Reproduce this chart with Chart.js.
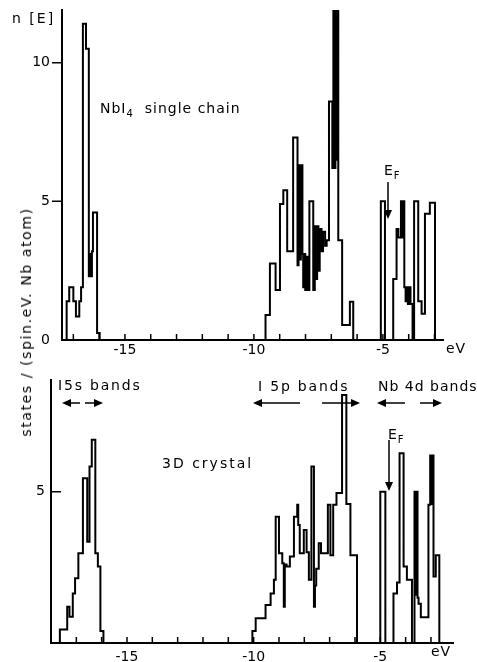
<!DOCTYPE html>
<html>
<head>
<meta charset="utf-8">
<script src="https://cdn.jsdelivr.net/npm/chart.js@4"></script>
<style>
body { margin: 0; background: #fff; width: 477px; height: 662px; position: relative; overflow: hidden; font-family: "DejaVu Sans", sans-serif; color: #000; }
canvas { position: absolute; left: 0; }
#c1 { top: 0; }
#c2 { top: 362px; }
.t { position: absolute; font-size: 14px; white-space: nowrap; letter-spacing: 1px; }
.t sub { font-size: 10px; }
#ytitle { position: absolute; left: 26px; top: 322px; transform: translate(-50%, -50%) rotate(-90deg); font-size: 14px; letter-spacing: 1.6px; white-space: nowrap; }
</style>
</head>
<body>
<canvas id="c1" width="477" height="362"></canvas>
<canvas id="c2" width="477" height="300"></canvas>

<div class="t" style="left:12px;top:10px;letter-spacing:2px">n [E]</div>
<div class="t" style="left:100px;top:100px">NbI<sub>4</sub>&nbsp; single chain</div>
<div class="t" style="left:384px;top:162px">E<sub>F</sub></div>
<div class="t" style="left:446px;top:340px">eV</div>

<div class="t" style="left:58px;top:377px;letter-spacing:1.8px">I5s bands</div>
<div class="t" style="left:258px;top:378px;letter-spacing:1.8px">I 5p bands</div>
<div class="t" style="left:378px;top:378px">Nb 4d bands</div>
<div class="t" style="left:162px;top:455px;letter-spacing:2px">3D crystal</div>
<div class="t" style="left:388px;top:426px">E<sub>F</sub></div>
<div class="t" style="left:431px;top:643px">eV</div>
<div id="ytitle">states / (spin.eV. Nb atom)</div>

<script>
// NbI4 single chain (energy in eV, left edge of each step)
const topE = [
  -17.44, -17.26, -17.16, -17.00, -16.90, -16.77, -16.70, -16.63, -16.51, -16.40, -16.36, -16.32, -16.28, -16.24, -16.08, -15.98,
  -9.55, -9.38, -9.16, -8.99, -8.86, -8.71, -8.48, -8.31, -8.27, -8.22, -8.18, -8.12, -8.09, -8.05, -8.01, -7.96, -7.89, -7.85, -7.70, -7.64,
  -7.60, -7.55, -7.50, -7.45, -7.38, -7.32, -7.24, -7.18, -7.09, -6.96, -6.92, -6.88, -6.84, -6.80, -6.76, -6.73, -6.58, -6.28, -6.15,
  -5.08, -4.92, -4.60, -4.47, -4.40, -4.30, -4.26, -4.22, -4.17, -4.12, -4.08, -4.03, -3.98, -3.93, -3.85, -3.79, -3.63, -3.50, -3.37, -3.18, -2.98
];
const topN = [
  0, 1.4, 1.9, 1.4, 0.85, 1.4, 1.9, 11.4, 10.5, 2.3, 3.1, 2.3, 3.2, 4.6, 0.25, 0,
  0.9, 2.76, 1.8, 4.9, 5.4, 3.2, 7.3, 2.7, 6.3, 2.9, 6.3, 3.1, 1.9, 3.1, 1.8, 3.0, 1.8, 5.0, 1.8, 4.1,
  2.2, 4.1, 2.5, 4.0, 3.2, 3.9, 3.4, 3.6, 8.6, 6.2, 11.9, 6.2, 11.9, 6.5, 11.9, 3.6, 0.54, 1.38, 0,
  5.0, 0, 2.2, 4.0, 3.7, 5.0, 3.7, 5.0, 1.9, 1.4, 1.9, 1.3, 1.9, 1.3, 0, 5.0, 1.4, 0.95, 4.55, 4.95, 0
];

// 3D crystal
const botE = [
  -18.0, -17.65, -17.36, -17.27, -17.14, -17.05, -16.92, -16.74, -16.57, -16.48, -16.39, -16.25, -16.15, -16.05, -15.93,
  -10.05, -9.92, -9.53, -9.33, -9.20, -9.13, -9.00, -8.87, -8.81, -8.77, -8.70, -8.57, -8.41, -8.28, -8.24, -8.18, -8.02,
  -7.91, -7.82, -7.72, -7.62, -7.58, -7.53, -7.43, -7.34, -7.07, -6.97, -6.86, -6.73, -6.51, -6.34, -6.18, -5.92,
  -5.00, -4.80, -4.48, -4.34, -4.24, -4.08, -3.95, -3.75, -3.65, -3.61, -3.57, -3.53, -3.49, -3.40, -3.10, -3.03, -2.99, -2.95, -2.90, -2.81, -2.67
];
const botN = [
  0, 0.45, 1.2, 0.87, 1.64, 2.14, 2.97, 5.45, 3.35, 5.84, 6.72, 2.97, 2.53, 0.4, 0,
  0.4, 0.82, 1.26, 1.64, 2.09, 4.18, 2.97, 2.64, 1.2, 2.6, 2.53, 2.86, 4.18, 4.57, 3.9, 2.97, 3.74,
  3.0, 2.09, 5.84, 1.2, 1.9, 2.46, 3.3, 2.97, 4.57, 2.9, 4.57, 4.96, 8.2, 4.6, 2.9, 0,
  5.0, 0, 1.64, 2.0, 6.28, 2.53, 2.09, 0, 5.0, 1.6, 5.0, 1.5, 1.3, 0.85, 4.57, 6.2, 4.6, 6.2, 2.2, 2.9, 0
];

const xLabels = [-15, -10, -5];
const topYTicks = [0, 5, 10];
const botYTicks = [5];

// tick marks (x inward, y on either side) + annotation arrows
const marks = {
  id: 'marks',
  afterDatasetsDraw(chart, args, opts) {
    const ctx = chart.ctx, x = chart.scales.x, y = chart.scales.y, a = chart.chartArea;
    ctx.save();
    ctx.strokeStyle = '#000';
    ctx.fillStyle = '#000';
    ctx.lineWidth = 1.5;
    ctx.beginPath();
    for (let v = Math.ceil(x.min); v <= x.max; v++) {
      const px = x.getPixelForValue(v);
      ctx.moveTo(px, a.bottom);
      ctx.lineTo(px, a.bottom - 6);
    }
    y.ticks.forEach(t => {
      if (t.value === 0) return;
      const py = y.getPixelForValue(t.value);
      ctx.moveTo(a.left, py);
      ctx.lineTo(a.left + opts.yTick, py);
    });
    ctx.stroke();
    (opts.arrows || []).forEach(([x1, y1, x2, y2]) => {
      const ang = Math.atan2(y2 - y1, x2 - x1);
      ctx.beginPath();
      ctx.moveTo(x1, y1);
      ctx.lineTo(x2 - 6 * Math.cos(ang), y2 - 6 * Math.sin(ang));
      ctx.stroke();
      ctx.beginPath();
      ctx.moveTo(x2, y2);
      ctx.lineTo(x2 - 9 * Math.cos(ang) + 4 * Math.sin(ang), y2 - 9 * Math.sin(ang) - 4 * Math.cos(ang));
      ctx.lineTo(x2 - 9 * Math.cos(ang) - 4 * Math.sin(ang), y2 - 9 * Math.sin(ang) + 4 * Math.cos(ang));
      ctx.closePath();
      ctx.fill();
    });
    ctx.restore();
  }
};

function makeChart(id, es, ns, xmin, xmax, ymax, yTicks, axisX, pad, xHeight, yTick, labelPad, xLabelPad, arrows) {
  return new Chart(document.getElementById(id), {
    type: 'line',
    data: {
      datasets: [{
        data: es.map((e, i) => ({ x: e, y: ns[i] })),
        stepped: true,
        borderColor: '#000',
        borderWidth: 2,
        pointRadius: 0,
        fill: false
      }]
    },
    options: {
      responsive: false,
      animation: false,
      layout: { padding: pad },
      plugins: {
        legend: { display: false },
        tooltip: { enabled: false },
        marks: { arrows: arrows, yTick: yTick }
      },
      scales: {
        x: {
          type: 'linear',
          min: xmin,
          max: xmax,
          grid: { display: false, tickLength: 0 },
          border: { display: true, color: '#000', width: 2 },
          afterBuildTicks: s => { s.ticks = xLabels.map(v => ({ value: v })); },
          afterFit: s => { s.height = xHeight; s.paddingLeft = 0; s.paddingRight = 0; },
          ticks: { color: '#000', padding: xLabelPad, maxRotation: 0, autoSkip: false, font: { family: 'DejaVu Sans', size: 14 } }
        },
        y: {
          min: 0,
          max: ymax,
          grid: { display: false, tickLength: 0 },
          border: { display: true, color: '#000', width: 2 },
          afterBuildTicks: s => { s.ticks = yTicks.map(v => ({ value: v })); },
          afterFit: s => { s.width = axisX; s.paddingTop = 0; s.paddingBottom = 0; },
          ticks: { color: '#000', padding: labelPad, font: { family: 'DejaVu Sans', size: 14 } }
        }
      }
    },
    plugins: [marks]
  });
}

const chartTop = makeChart('c1', topE, topN, -17.44, -2.67, 11.9, topYTicks, 62,
  { top: 10, right: 34, left: 0, bottom: 0 }, 22, -10, 12, 2,
  [[388, 182, 388, 219]]);

const chartBot = makeChart('c2', botE, botN, -18.0, -2.13, 8.7, botYTicks, 51,
  { top: 18, right: 24, left: 0, bottom: 0 }, 19, 10, 6, 6,
  [[80, 41, 62, 41], [85, 41, 103, 41],
   [300, 41, 253, 41], [322, 41, 360, 41],
   [405, 41, 377, 41], [420, 41, 442, 41],
   [389, 78, 389, 129]]);
</script>
</body>
</html>
